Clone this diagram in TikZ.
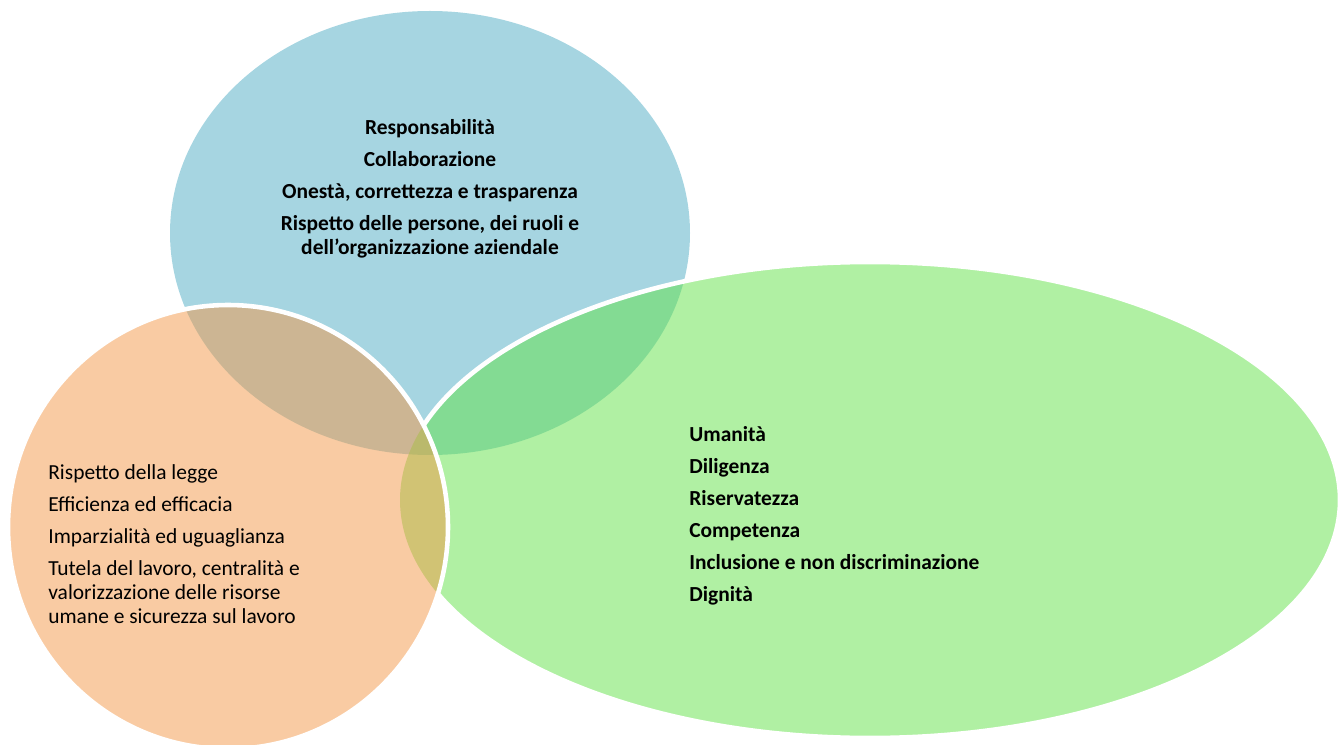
\documentclass[tikz,border=0pt]{standalone}
\usepackage{fontspec}
\setmainfont{Carlito}
\usepackage{xcolor}
\usepackage{tikz}
\usetikzlibrary{positioning}

\definecolor{vennblue}{RGB}{77,171,195}
\definecolor{vennorange}{RGB}{243,151,71}
\definecolor{venngreen}{RGB}{97,225,71}

\begin{document}
\begin{tikzpicture}[
    bubble/.style={fill opacity=0.5},
    rim/.style={draw=white, line width=2.6pt},
    words/.style={font=\fontsize{12.2}{13.7}\selectfont, inner sep=0pt, text=black}
]
    \useasboundingbox (0,0) rectangle (26.78,-14.9);

    % Centres of the three sets
    \coordinate (blue) at (8.6,-4.66);
    \coordinate (green) at (17.4,-10.0);
    \coordinate (orange) at (4.56,-10.54);

    % Bubbles
    \fill[vennblue, bubble] (blue) ellipse [x radius=5.2, y radius=4.44]; % Top
    \fill[venngreen, bubble] (green) ellipse [x radius=9.4, y radius=4.76]; % Right
    \fill[vennorange, bubble] (orange) ellipse [x radius=4.4, y radius=4.44]; % Left

    % White rims (the green one stays hidden under the orange set)
    \begin{scope}[even odd rule]
        \clip (0,0) rectangle (26.78,-14.9) (orange) ellipse [x radius=4.4, y radius=4.44];
        \draw[rim] (green) ellipse [x radius=9.4, y radius=4.76];
    \end{scope}
    \draw[rim] (orange) ellipse [x radius=4.4, y radius=4.44];

    % Values
    \node[words, align=center, font=\fontsize{12.2}{13.7}\bfseries] (bluetext) at (8.6,-3.77)
        {Responsabilità\\[4.5pt]
         Collaborazione\\[4.5pt]
         Onestà, correttezza e trasparenza\\[4.5pt]
         Rispetto delle persone, dei ruoli e\\
         dell’organizzazione aziendale};
    \node[words, align=left, anchor=west] (orangetext) at (0.96,-10.88)
        {Rispetto della legge\\[4.5pt]
         Efficienza ed efficacia\\[4.5pt]
         Imparzialità ed uguaglianza\\[4.5pt]
         Tutela del lavoro, centralità e\\
         valorizzazione delle risorse\\
         umane e sicurezza sul lavoro};
    \node[words, align=left, anchor=west, font=\fontsize{12.2}{13.7}\bfseries] (greentext) at (13.78,-10.31)
        {Umanità\\[4.5pt]
         Diligenza\\[4.5pt]
         Riservatezza\\[4.5pt]
         Competenza\\[4.5pt]
         Inclusione e non discriminazione\\[4.5pt]
         Dignità};
\end{tikzpicture}
\end{document}
